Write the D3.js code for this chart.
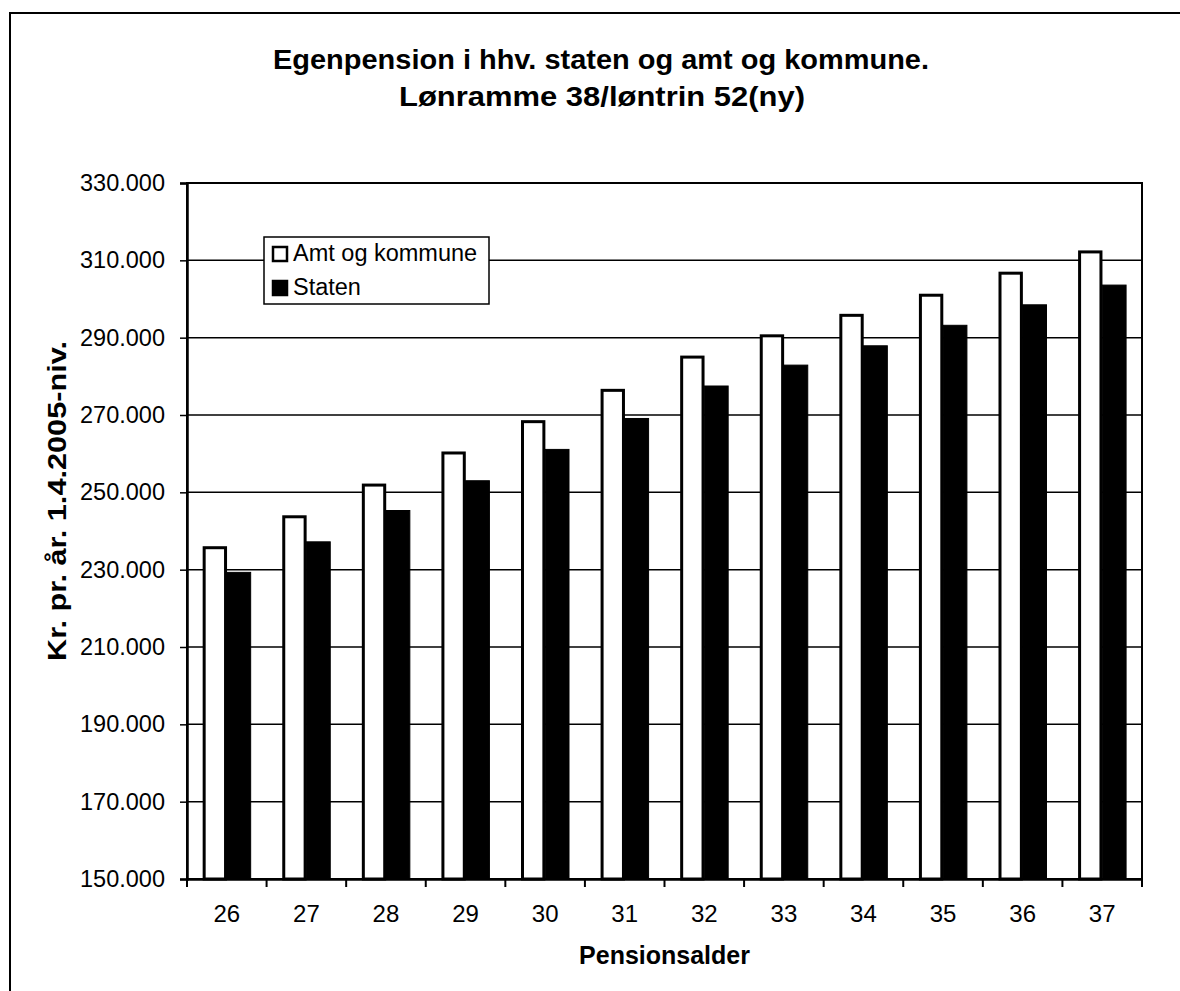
<!DOCTYPE html>
<html><head><meta charset="utf-8">
<script src="https://cdn.jsdelivr.net/npm/d3@7"></script>
<style>
html,body{margin:0;padding:0;background:#fff;}
svg{display:block;font-family:"Liberation Sans",Arial,sans-serif;}
</style></head>
<body>
<script>
const categories = ["26","27","28","29","30","31","32","33","34","35","36","37"];
const amtOgKommune = [236000,244000,252200,260500,268600,276700,285300,290800,296100,301300,307000,312500];
const staten = [229300,237200,245300,253000,261100,269100,277500,282900,287900,293200,298500,303600];
const seriesNames = ["Amt og kommune","Staten"];
const yTicks = [150000,170000,190000,210000,230000,250000,270000,290000,310000,330000];
const titleLines = ["Egenpension i hhv. staten og amt og kommune.","Lønramme 38/løntrin 52(ny)"];
const yTitle = "Kr. pr. år. 1.4.2005-niv.";
const xTitle = "Pensionsalder";

const W=1180,H=991;
const L=187,R=1142,T=183,B=879;
const svg=d3.select("body").append("svg").attr("width",W).attr("height",H);
svg.append("rect").attr("width",W).attr("height",H).attr("fill","#fff");
// outer frame (partially visible)
svg.append("path").attr("d",`M10,${H+5}V13H${W+5}`).attr("fill","none").attr("stroke","#000").attr("stroke-width",2);

const fmt = v => d3.format(",")(v).replace(/,/g,".");
const y=d3.scaleLinear().domain([150000,330000]).range([B,T]);
const xCat=d3.scaleBand().domain(categories).range([L,R]).padding(0);
const x0=d3.scaleBand().domain(categories).range([L,R]).paddingInner(0.4).paddingOuter(0.2);
const x1=d3.scaleBand().domain(seriesNames).range([0,x0.bandwidth()]);

// gridlines
svg.append("g").selectAll("line").data(yTicks).join("line")
  .attr("x1",L).attr("x2",R).attr("y1",d=>y(d)).attr("y2",d=>y(d))
  .attr("stroke","#000").attr("stroke-width",1.5);

// bars
const data = categories.map((c,i)=>({c, vals:[amtOgKommune[i],staten[i]]}));
const g=svg.append("g").selectAll("g").data(data).join("g").attr("transform",d=>`translate(${x0(d.c)},0)`);
g.selectAll("rect").data(d=>d.vals.map((v,j)=>({v,s:seriesNames[j],j}))).join("rect")
  .attr("x",d=>x1(d.s)+(d.j===0?1.25:0)).attr("width",d=>x1.bandwidth()-(d.j===0?2.5:0))
  .attr("y",d=>y(d.v)+(d.j===0?1.25:0)).attr("height",d=>B-y(d.v)-(d.j===0?1.25:0))
  .attr("fill",d=>d.j===0?"#fff":"#000").attr("stroke","#000").attr("stroke-width",d=>d.j===0?3:1);

// plot border
svg.append("rect").attr("x",L).attr("y",T).attr("width",R-L).attr("height",B-T)
  .attr("fill","none").attr("stroke","#000").attr("stroke-width",2);

// y axis
const yAxis=svg.append("g").attr("transform",`translate(${L},0)`)
  .call(d3.axisLeft(y).tickValues(yTicks).tickFormat(fmt).tickSize(7).tickPadding(15));
yAxis.select(".domain").attr("stroke-width",2.5);
yAxis.selectAll(".tick line").attr("stroke-width",1.5);
yAxis.selectAll("text").attr("font-size",23.5).attr("fill","#000").attr("font-family","Liberation Sans, Arial, sans-serif");

// x axis
const xAxis=svg.append("g").attr("transform",`translate(0,${B})`)
  .call(d3.axisBottom(xCat).tickSize(0).tickPadding(26));
xAxis.select(".domain").attr("stroke-width",2.5);
xAxis.selectAll("text").attr("font-size",24).attr("fill","#000").attr("font-family","Liberation Sans, Arial, sans-serif");
svg.append("g").selectAll("line").data(categories.concat(["end"])).join("line")
  .attr("x1",d=>d==="end"?R:xCat(d)).attr("x2",d=>d==="end"?R:xCat(d))
  .attr("y1",B).attr("y2",B+8).attr("stroke","#000").attr("stroke-width",2);

// titles
svg.append("text").attr("x",601).attr("y",69).attr("text-anchor","middle")
  .attr("font-size",27).attr("font-weight","bold")
  .attr("textLength",656).attr("lengthAdjust","spacingAndGlyphs").text(titleLines[0]);
svg.append("text").attr("x",602).attr("y",106).attr("text-anchor","middle")
  .attr("font-size",27).attr("font-weight","bold")
  .attr("textLength",406).attr("lengthAdjust","spacingAndGlyphs").text(titleLines[1]);
svg.append("text").attr("transform",`translate(66,501) rotate(-90)`).attr("text-anchor","middle")
  .attr("font-size",25).attr("font-weight","bold")
  .attr("textLength",320).attr("lengthAdjust","spacingAndGlyphs").text(yTitle);
svg.append("text").attr("x",(L+R)/2).attr("y",964).attr("text-anchor","middle")
  .attr("font-size",25).attr("font-weight","bold").text(xTitle);

// legend
const lg=svg.append("g");
lg.append("rect").attr("x",264).attr("y",237).attr("width",225).attr("height",67)
  .attr("fill","#fff").attr("stroke","#000").attr("stroke-width",1.5);
seriesNames.forEach((s,i)=>{
  const yy=[247,281][i];
  lg.append("rect").attr("x",273).attr("y",yy).attr("width",14).attr("height",14)
    .attr("fill",i===0?"#fff":"#000").attr("stroke","#000").attr("stroke-width",2.5);
  lg.append("text").attr("x",293).attr("y",[261,295][i]).attr("font-size",23.5).text(s);
});
</script>
</body></html>
